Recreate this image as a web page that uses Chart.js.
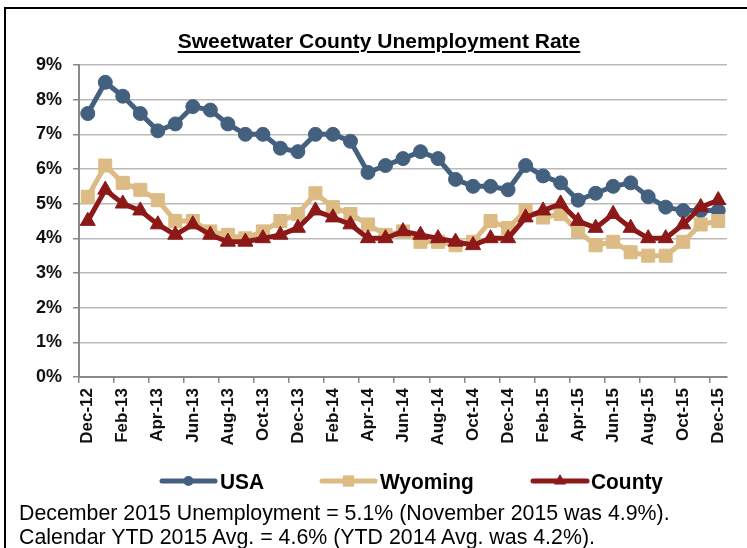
<!DOCTYPE html>
<html>
<head>
<meta charset="utf-8">
<script src="https://cdn.jsdelivr.net/npm/chart.js"></script>
<style>
html,body{margin:0;padding:0;background:#fff;width:747px;height:548px;overflow:hidden}
#wrap{position:relative;width:747px;height:548px}
canvas{position:absolute;left:0;top:0}
#frame{position:absolute;left:4px;top:7px;width:800px;height:600px;border-left:2.5px solid #000;border-top:2.5px solid #000;box-sizing:border-box}
#title{position:absolute;left:0;width:758px;top:29px;text-align:center;font:bold 21px 'Liberation Sans',Arial,sans-serif;color:#000;text-decoration:underline;text-underline-offset:3px;text-decoration-thickness:2px;white-space:nowrap}
#note{position:absolute;left:19px;top:501px;font:22px 'Liberation Sans',Arial,sans-serif;line-height:24px;color:#000;white-space:nowrap;transform:scaleX(0.97);transform-origin:0 0}
</style>
</head>
<body>
<div id="wrap">
<canvas id="c" width="747" height="548"></canvas>
<div id="frame"></div>
<div id="title">Sweetwater County Unemployment Rate</div>
<div id="note">December 2015 Unemployment = 5.1% (November 2015 was 4.9%).<br>Calendar YTD 2015 Avg. = 4.6% (YTD 2014 Avg. was 4.2%).</div>
</div>
<script>
const months = ['Dec-12','Jan-13','Feb-13','Mar-13','Apr-13','May-13','Jun-13','Jul-13','Aug-13','Sep-13','Oct-13','Nov-13','Dec-13',
  'Jan-14','Feb-14','Mar-14','Apr-14','May-14','Jun-14','Jul-14','Aug-14','Sep-14','Oct-14','Nov-14','Dec-14',
  'Jan-15','Feb-15','Mar-15','Apr-15','May-15','Jun-15','Jul-15','Aug-15','Sep-15','Oct-15','Nov-15','Dec-15'];
const seriesNames = ['USA','Wyoming','County'];
const usa = [7.6,8.5,8.1,7.6,7.1,7.3,7.8,7.7,7.3,7.0,7.0,6.6,6.5,
  7.0,7.0,6.8,5.9,6.1,6.3,6.5,6.3,5.7,5.5,5.5,5.4,
  6.1,5.8,5.6,5.1,5.3,5.5,5.6,5.2,4.9,4.8,4.8,4.8];
const wyoming = [5.2,6.1,5.6,5.4,5.1,4.5,4.5,4.2,4.1,4.0,4.2,4.5,4.7,
  5.3,4.9,4.7,4.4,4.1,4.2,3.9,3.9,3.8,3.9,4.5,4.3,
  4.8,4.6,4.7,4.2,3.8,3.9,3.6,3.5,3.5,3.9,4.4,4.5];
const county = [4.5,5.4,5.0,4.8,4.4,4.1,4.4,4.1,3.9,3.9,4.0,4.1,4.3,
  4.8,4.6,4.4,4.0,4.0,4.2,4.1,4.0,3.9,3.8,4.0,4.0,
  4.6,4.8,5.0,4.5,4.3,4.7,4.3,4.0,4.0,4.4,4.9,5.1];
const yMin = 0, yMax = 9, yStep = 1;

const colors = ['#44607f','#dcbc84','#8c1818'];
const FONT = "'Liberation Sans', Arial, sans-serif";

function drawMarker(ctx, style, x, y, r){
  ctx.beginPath();
  if(style==='circle'){ ctx.arc(x,y,r,0,Math.PI*2); }
  else if(style==='rect'){ const s=r*Math.SQRT1_2; ctx.rect(x-s,y-s,2*s,2*s); }
  else if(style==='triangle'){
    ctx.moveTo(x, y-r);
    ctx.lineTo(x + r*Math.sin(Math.PI*2/3), y + r/2);
    ctx.lineTo(x - r*Math.sin(Math.PI*2/3), y + r/2);
    ctx.closePath();
  }
  ctx.fill();
}

const legendPlugin = {
  id:'customLegend',
  afterDraw(chart){
    const ctx = chart.ctx;
    const slots = [{x1:160,x2:217,tx:220,r:5},{x1:320,x2:377,tx:380,r:8},{x1:531,x2:589,tx:591,r:7}];
    const y = 481;
    ctx.save();
    chart.data.datasets.forEach((ds,i)=>{
      const s = slots[i];
      ctx.strokeStyle = ds.borderColor; ctx.fillStyle = ds.borderColor;
      ctx.lineWidth = 5; ctx.lineCap='round';
      ctx.beginPath(); ctx.moveTo(s.x1+2,y); ctx.lineTo(s.x2-2,y); ctx.stroke();
      drawMarker(ctx, ds.pointStyle, (s.x1+s.x2)/2, y, s.r);
      ctx.fillStyle = '#000';
      ctx.font = 'bold 22px ' + FONT;
      ctx.textBaseline = 'alphabetic'; ctx.textAlign='left';
      ctx.save(); ctx.translate(s.tx, 489); ctx.scale(0.95,1); ctx.fillText(ds.label,0,0); ctx.restore();
    });
    ctx.restore();
  }
};

function mk(i, data, style, r){
  return {
    label: seriesNames[i], data: data,
    borderColor: colors[i], backgroundColor: colors[i],
    pointBackgroundColor: colors[i], pointBorderColor: colors[i],
    pointStyle: style, pointRadius: r, pointHoverRadius: r, pointBorderWidth: 1,
    borderWidth: 5, tension: 0, fill: false, order: 3 - i
  };
}

new Chart(document.getElementById('c'), {
  type: 'line',
  data: {
    labels: months,
    datasets: [ mk(0, usa, 'circle', 7), mk(1, wyoming, 'rect', 9.2), mk(2, county, 'triangle', 8.7) ]
  },
  options: {
    responsive: false, animation: false, devicePixelRatio: 1,
    layout: { padding: { top: 65, left: 0, right: 20, bottom: 0 } },
    plugins: { legend: { display: false }, title: { display: false }, tooltip: { enabled: false } },
    scales: {
      x: {
        type: 'category', offset: true,
        afterFit(s){ s.height = 171; },
        grid: {
          offset: true, drawOnChartArea: false, drawTicks: true, tickLength: 6,
          color: c => (c.index % 2 === 0 ? '#888' : 'rgba(0,0,0,0)'),
          tickColor: c => (c.index % 2 === 0 ? '#888' : 'rgba(0,0,0,0)'),
          lineWidth: 1.5
        },
        border: { display: true, color: '#888', width: 2 },
        ticks: {
          autoSkip: false, maxRotation: 90, minRotation: 90, padding: 5,
          color: '#111', font: { family: FONT, size: 17, weight: 'bold' },
          callback: (v, i) => (i % 2 === 0 ? months[i] : '')
        }
      },
      y: {
        min: yMin, max: yMax,
        afterFit(s){ s.width = 79; },
        grid: { color: '#b9b9b9', lineWidth: 1.5, tickColor: '#888', tickLength: 6 },
        border: { display: true, color: '#888', width: 2 },
        ticks: {
          stepSize: yStep, padding: 11, color: '#111',
          font: { family: FONT, size: 18, weight: 'bold' },
          callback: v => v + '%'
        }
      }
    }
  },
  plugins: [legendPlugin]
});
</script>
</body>
</html>
